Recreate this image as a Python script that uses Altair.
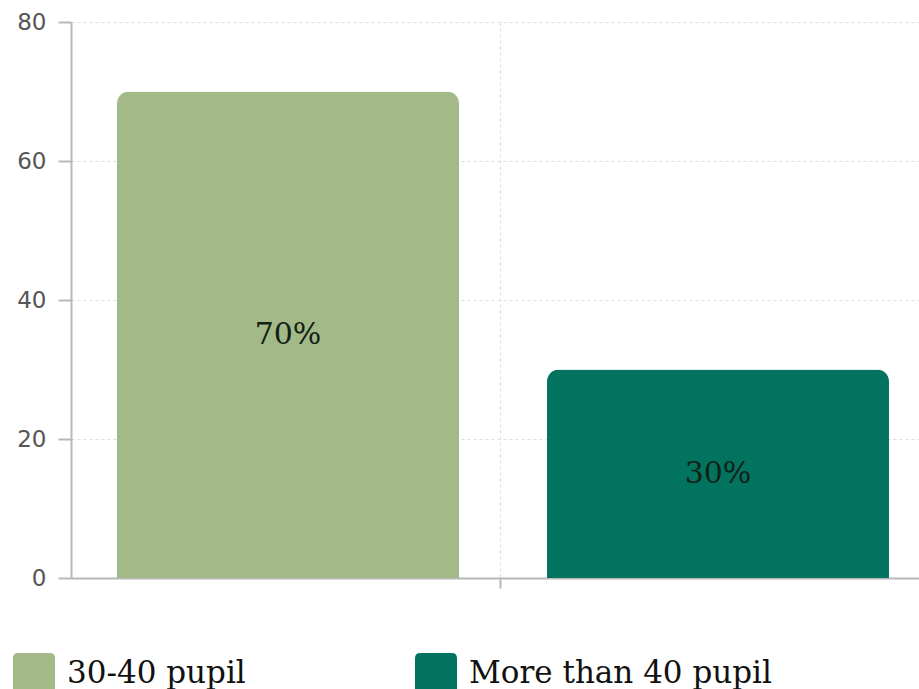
import altair as alt
import pandas as pd

categories = ["30-40 pupil", "More than 40 pupil"]
values = [70, 30]
labels = ["70%", "30%"]
colors = ["#a3b988", "#02735f"]
y_ticks = [0, 20, 40, 60, 80]

df = pd.DataFrame({"category": categories, "value": values, "label": labels})

axis_gray = "#b8b8b8"
grid_gray = "#dddddd"

x_enc = alt.X(
    "category:N",
    sort=categories,
    scale=alt.Scale(paddingInner=0.2047, paddingOuter=0.107, range=[0, 864]),
    axis=alt.Axis(
        values=categories[1:], labels=False, title=None, grid=True, gridDash=[3, 3],
        gridColor=grid_gray, gridWidth=1, bandPosition=-0.137, tickSize=10,
        tickColor=axis_gray, tickWidth=2, domainColor=axis_gray, domainWidth=2,
    ),
)

y_axis = alt.Axis(
    values=y_ticks, title=None, grid=True, gridDash=[3, 3], gridColor=grid_gray,
    gridWidth=1, tickSize=13, tickColor=axis_gray, tickWidth=2,
    domainColor=axis_gray, domainWidth=2, labelFont="DejaVu Sans",
    labelFontSize=23, labelColor="#555555", labelPadding=12,
)

rounded = "M-0.75,-1H0.75Q1,-1 1,-0.75V0.75Q1,1 0.75,1H-0.75Q-1,1 -1,0.75V-0.75Q-1,-1 -0.75,-1Z"

legend = alt.Legend(
    title=None, orient="none", legendX=-58, legendY=631, direction="horizontal",
    columns=2, symbolType=rounded, symbolSize=1764, symbolStrokeWidth=0,
    symbolOpacity=1, labelFont="DejaVu Serif", labelFontSize=31,
    labelColor="#111111", labelOffset=12, columnPadding=169, padding=0,
    labelLimit=600,
)

base = alt.Chart(df)

bars = base.mark_bar(cornerRadiusTopLeft=12, cornerRadiusTopRight=12).encode(
    x=x_enc,
    y=alt.Y("value:Q", scale=alt.Scale(domain=[0, 80], nice=False), axis=y_axis),
    color=alt.Color("category:N", scale=alt.Scale(domain=categories, range=colors), legend=legend),
)

text = base.transform_calculate(mid="datum.value / 2").mark_text(
    font="DejaVu Serif", fontSize=30, color="#142014", baseline="middle", align="center"
).encode(
    x=alt.X("category:N", sort=categories),
    y=alt.Y("mid:Q"),
    text="label:N",
)

chart = alt.layer(bars, text).properties(
    width=848, height=556,
    autosize=alt.AutoSizeParams(type="none"),
    padding={"left": 71, "top": 22, "right": 0, "bottom": 111},
    background="white",
).configure_view(stroke=None)

chart.save("out.html", embed_options={"renderer": "svg", "actions": False})
